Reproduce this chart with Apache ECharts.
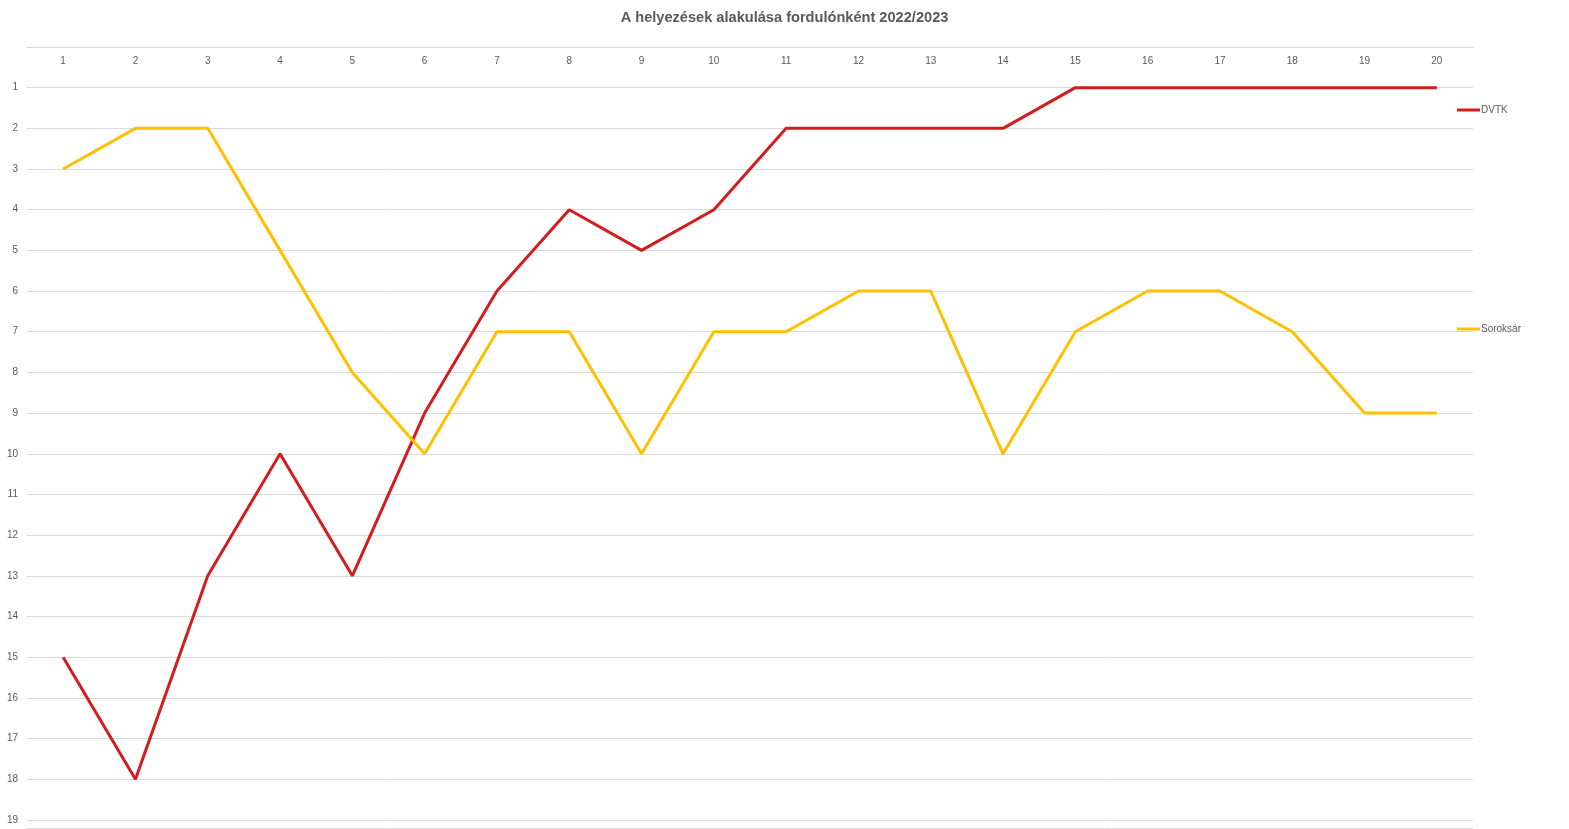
<!DOCTYPE html>
<html>
<head>
<meta charset="utf-8">
<script src="https://cdn.jsdelivr.net/npm/echarts@6/dist/echarts.min.js"></script>
<style>html,body{margin:0;padding:0;background:#fff;}#c{width:1569px;height:829px;}</style>
</head>
<body>
<div id="c"></div>
<script>
const rounds = ['1','2','3','4','5','6','7','8','9','10','11','12','13','14','15','16','17','18','19','20'];
const dvtk = [15, 18, 13, 10, 13, 9, 6, 4, 5, 4, 2, 2, 2, 2, 1, 1, 1, 1, 1, 1];
const soroksar = [3, 2, 2, 5, 8, 10, 7, 7, 10, 7, 7, 6, 6, 10, 7, 6, 6, 7, 9, 9];
const titleText = 'A helyezések alakulása fordulónként 2022/2023';

const chart = echarts.init(document.getElementById('c'));
const labelColor = '#595959';
const fontFam = '"Liberation Sans", "DejaVu Sans", sans-serif';
chart.setOption({
  animation: false,
  backgroundColor: '#fff',
  title: {
    text: titleText,
    left: 'center',
    top: 5,
    textStyle: { fontSize: 14.6, fontWeight: 'bold', color: labelColor, fontFamily: fontFam }
  },
  legend: [
    {
      data: ['DVTK'],
      left: 1452, top: 100, orient: 'vertical',
      icon: 'rect', itemWidth: 23, itemHeight: 3, itemGap: 0,
      textStyle: { fontSize: 10, color: labelColor, fontFamily: fontFam, padding: [0,0,0,-4] }
    },
    {
      data: ['Soroksár'],
      left: 1452, top: 319, orient: 'vertical',
      icon: 'rect', itemWidth: 23, itemHeight: 3, itemGap: 0,
      textStyle: { fontSize: 10, color: labelColor, fontFamily: fontFam, padding: [0,0,0,-4] }
    }
  ],
  grid: { left: 27, right: 96, top: 47, bottom: 1, containLabel: false },
  xAxis: [{
    type: 'category',
    data: rounds,
    position: 'top',
    boundaryGap: true,
    axisLine: { show: true, lineStyle: { color: '#d9d9d9', width: 1 } },
    axisTick: { show: false },
    axisLabel: { inside: true, margin: 9, fontSize: 10, color: labelColor, fontFamily: fontFam },
    splitLine: { show: false }
  }],
  yAxis: [{
    type: 'value',
    inverse: true,
    min: 0, max: 19.2, interval: 1,
    axisLine: { show: false },
    axisTick: { show: false },
    axisLabel: {
      margin: 9, fontSize: 10, color: labelColor, fontFamily: fontFam,
      formatter: function (v) { return (v === 0 || v !== Math.round(v)) ? '' : String(v); }
    },
    splitLine: { show: true, lineStyle: { color: '#d9d9d9', width: 1 } }
  }],
  series: [
    {
      name: 'DVTK', type: 'line', data: dvtk, symbol: 'none',
      lineStyle: { color: '#d41c1c', width: 3 }, itemStyle: { color: '#d41c1c' }
    },
    {
      name: 'Soroksár', type: 'line', data: soroksar, symbol: 'none',
      lineStyle: { color: '#ffc000', width: 3 }, itemStyle: { color: '#ffc000' }
    }
  ]
});
</script>
</body>
</html>
